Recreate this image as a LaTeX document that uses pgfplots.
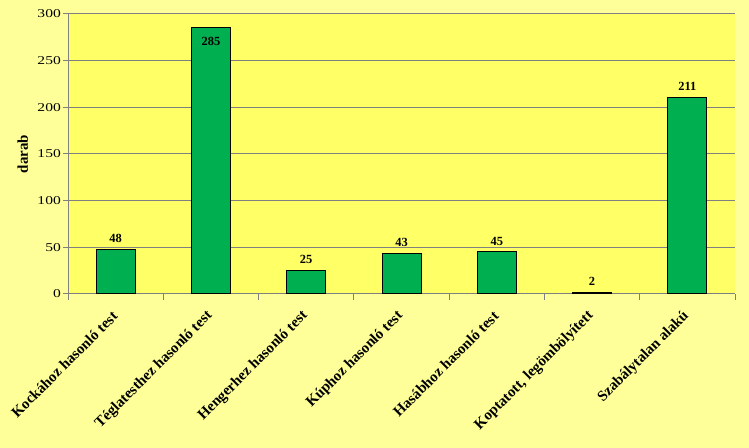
\documentclass[border=0pt]{standalone}
\usepackage{graphicx}
\usepackage{pgfplots}
\pgfplotsset{compat=1.18}
\usepackage{fontspec}
\setmainfont{Liberation Serif}
\definecolor{outerbg}{HTML}{FFFF99}
\definecolor{plotbg}{HTML}{FFFF66}
\definecolor{bargreen}{HTML}{00B050}
\definecolor{gridgray}{HTML}{808080}
\begin{document}
\begin{tikzpicture}[x=1bp,y=1bp]
\fill[outerbg] (0,0) rectangle (749,448);
\begin{axis}[
  at={(68bp,154bp)}, anchor=south west,
  scale only axis, width=667bp, height=280bp,
  xmin=-0.5, xmax=6.5, ymin=0, ymax=300,
  ytick={0,50,...,300},
  xtick={0,...,6},
  xticklabels={Kockához hasonló test,Téglatesthez hasonló test,Hengerhez hasonló test,Kúphoz hasonló test,Hasábhoz hasonló test,{Koptatott, legömbölyített},Szabálytalan alakú},
  minor xtick={-0.5,0.5,...,6.5},
  major x tick style={draw=none},
  minor x tick style={draw=gridgray, line width=1pt},
  minor tick length=6bp,
  major tick length=5bp,
  tick align=outside,
  y tick style={draw=gridgray, line width=1pt},
  ymajorgrids,
  major grid style={draw=gridgray, line width=1pt},
  axis line style={draw=gridgray, line width=1pt},
  axis x line*=bottom, axis y line*=left,
  axis background/.style={fill=plotbg},
  /pgf/number format/assume math mode=true,
  yticklabel={\scalebox{1.3}[1]{\pgfmathprintnumber{\tick}}},
  yticklabel style={font=\fontsize{12}{13}\selectfont, inner sep=2bp},
  xticklabel style={font=\fontsize{15}{16}\bfseries\selectfont, yshift=-14bp, xshift=0bp, rotate=45, anchor=east, inner sep=1bp},
  ylabel={darab},
  ylabel style={font=\fontsize{15}{16}\bfseries\selectfont, at={(ticklabel cs:0.5)}, yshift=4bp},
  ybar, bar width=39bp, bar shift=0pt,
  clip=false,
]
\addplot[fill=bargreen, draw=black, line width=1pt,
  nodes near coords, every node near coord/.append style={font=\fontsize{12.5}{13}\bfseries\selectfont, text=black, yshift=3bp}]
  coordinates {(0,48) (2,25) (3,43) (4,45) (5,2) (6,211)};
\addplot[fill=bargreen, draw=black, line width=1pt,
  nodes near coords, every node near coord/.append style={font=\fontsize{12.5}{13}\bfseries\selectfont, text=black, anchor=north, yshift=-5bp}]
  coordinates {(1,285)};
\end{axis}
\pgfresetboundingbox
\path (0,0) rectangle (749,448);
\end{tikzpicture}
\end{document}
